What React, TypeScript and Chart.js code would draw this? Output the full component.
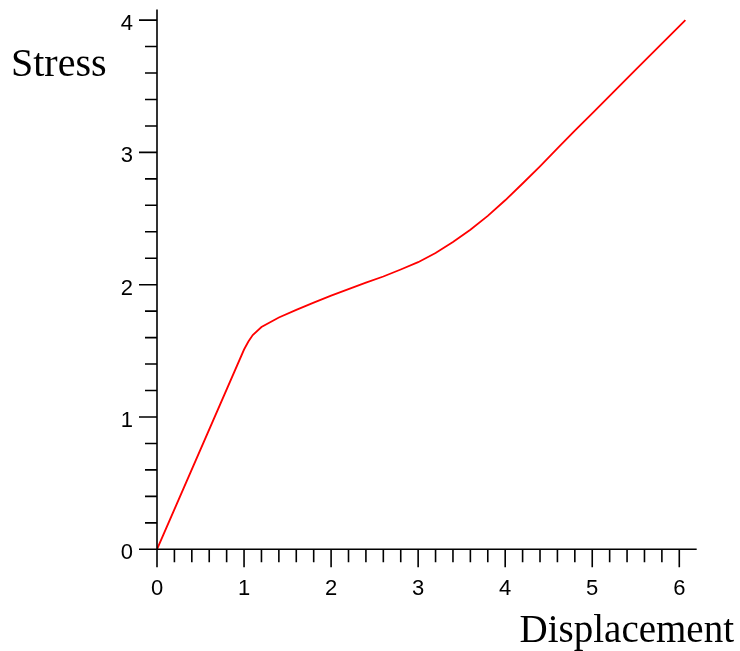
import React, { useEffect, useRef } from "react";
import { Chart, registerables } from "chart.js";

Chart.register(...registerables);

const DISPLACEMENT = [0, 1.0, 1.05, 1.1, 1.2, 1.4, 1.6, 1.8, 2.0, 2.2, 2.4, 2.6, 2.8, 3.0, 3.2, 3.4, 3.6, 3.8, 4.0, 4.2, 4.4, 4.6, 4.8, 5.0, 5.5, 6.07];
const STRESS = [0, 1.51, 1.57, 1.62, 1.68, 1.752, 1.81, 1.865, 1.918, 1.967, 2.015, 2.062, 2.115, 2.17, 2.24, 2.322, 2.415, 2.52, 2.638, 2.765, 2.895, 3.03, 3.165, 3.295, 3.625, 4.0];

const X_TICKS = [0, 1, 2, 3, 4, 5, 6];
const Y_TICKS = [0, 1, 2, 3, 4];
const X_MAX = 6.2;
const Y_MAX = 4.08;
const MINOR_STEP = 0.2;
const X_TITLE = "Displacement";
const Y_TITLE = "Stress";

const axesPlugin = {
  id: "customAxes",
  afterDraw(chart: any) {
    const ctx = chart.ctx;
    const xs = chart.scales.x;
    const ys = chart.scales.y;
    const x0 = xs.getPixelForValue(0);
    const y0 = ys.getPixelForValue(0);
    ctx.save();
    ctx.strokeStyle = "#000";
    ctx.lineWidth = 1.6;
    ctx.beginPath();
    ctx.moveTo(x0, ys.getPixelForValue(Y_MAX));
    ctx.lineTo(x0, y0);
    ctx.moveTo(x0, y0);
    ctx.lineTo(xs.getPixelForValue(X_MAX), y0);
    const xLast = X_TICKS[X_TICKS.length - 1];
    for (let i = 0; i * MINOR_STEP <= xLast + 1e-9; i++) {
      const v = i * MINOR_STEP;
      const major = i % 5 === 0;
      const px = xs.getPixelForValue(v);
      ctx.moveTo(px, y0);
      ctx.lineTo(px, y0 + (major ? 18 : 13));
    }
    const yLast = Y_TICKS[Y_TICKS.length - 1];
    for (let i = 0; i * MINOR_STEP <= yLast + 1e-9; i++) {
      const v = i * MINOR_STEP;
      const major = i % 5 === 0;
      const py = ys.getPixelForValue(v);
      ctx.moveTo(x0, py);
      ctx.lineTo(x0 - (major ? 18 : 12), py);
    }
    ctx.stroke();

    ctx.fillStyle = "#000";
    ctx.font = "22px 'Liberation Sans', Arial, sans-serif";
    ctx.textBaseline = "alphabetic";
    ctx.textAlign = "center";
    X_TICKS.forEach((v) => {
      ctx.fillText(String(v), xs.getPixelForValue(v), y0 + 46);
    });
    ctx.textAlign = "right";
    Y_TICKS.forEach((v) => {
      ctx.fillText(String(v), x0 - 24, ys.getPixelForValue(v) + 10);
    });

    ctx.font = "40px 'Liberation Serif', 'Times New Roman', serif";
    ctx.textAlign = "left";
    ctx.fillText(Y_TITLE, 11, 76);
    ctx.font = "39px 'Liberation Serif', 'Times New Roman', serif";
    ctx.textAlign = "right";
    ctx.fillText(X_TITLE, 734, 642);
    ctx.restore();
  },
};

export default function App() {
  const ref = useRef<HTMLCanvasElement>(null);
  useEffect(() => {
    if (!ref.current) return;
    const chart = new Chart(ref.current, {
      type: "scatter",
      data: {
        datasets: [
          {
            data: DISPLACEMENT.map((x, i) => ({ x, y: STRESS[i] })),
            showLine: true,
            borderColor: "#ff0000",
            backgroundColor: "#ff0000",
            borderWidth: 1.8,
            pointRadius: 0,
            tension: 0,
            fill: false,
          },
        ],
      },
      options: {
        responsive: false,
        animation: false,
        devicePixelRatio: 1,
        layout: { padding: { left: 0, top: 9.5, right: 43.3, bottom: 0 } },
        plugins: { legend: { display: false }, tooltip: { enabled: false } },
        scales: {
          x: {
            type: "linear",
            min: 0,
            max: X_MAX,
            grid: { display: false },
            border: { display: false },
            ticks: { display: false },
            afterFit: (s: any) => {
              s.height = 101.7;
            },
          },
          y: {
            type: "linear",
            min: 0,
            max: Y_MAX,
            grid: { display: false },
            border: { display: false },
            ticks: { display: false },
            afterFit: (s: any) => {
              s.width = 157;
            },
          },
        },
      },
      plugins: [axesPlugin],
    });
    return () => chart.destroy();
  }, []);
  return (
    <div style={{ position: "absolute", left: 0, top: 0, width: 740, height: 651, background: "#fff" }}>
      <canvas ref={ref} width={740} height={651} />
    </div>
  );
}
